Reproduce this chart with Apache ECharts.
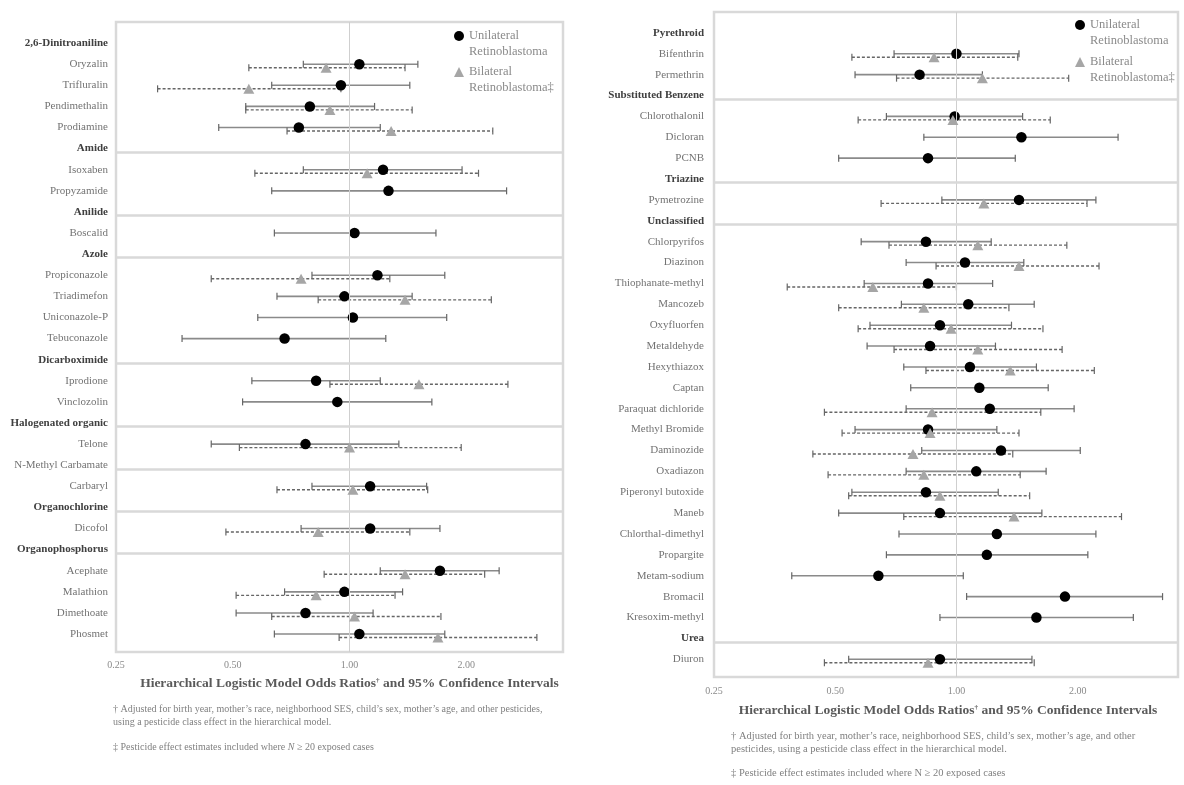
<!DOCTYPE html>
<html>
<head>
<meta charset="utf-8">
<script src="https://cdn.jsdelivr.net/npm/echarts@6/dist/echarts.min.js"></script>
<style>
  html, body { margin: 0; padding: 0; background: #fff; }
  #chart { width: 1184px; height: 785px; }
</style>
</head>
<body>
<div id="chart"></div>
<script>
// ---- Left panel: pesticide classes and active ingredients (top to bottom) ----
const leftLabels = [
  '2,6-Dinitroaniline', 'Oryzalin', 'Trifluralin', 'Pendimethalin', 'Prodiamine',
  'Amide', 'Isoxaben', 'Propyzamide',
  'Anilide', 'Boscalid',
  'Azole', 'Propiconazole', 'Triadimefon', 'Uniconazole-P', 'Tebuconazole',
  'Dicarboximide', 'Iprodione', 'Vinclozolin',
  'Halogenated organic', 'Telone',
  'N-Methyl Carbamate', 'Carbaryl',
  'Organochlorine', 'Dicofol',
  'Organophosphorus', 'Acephate', 'Malathion', 'Dimethoate', 'Phosmet'
];
const leftClasses = ['2,6-Dinitroaniline', 'Amide', 'Anilide', 'Azole', 'Dicarboximide',
  'Halogenated organic', 'N-Methyl Carbamate', 'Organochlorine', 'Organophosphorus'];

// Unilateral retinoblastoma: odds ratio, lower and upper 95% CI
const leftUniOR = [null, 1.06, 0.95, 0.79, 0.74, null, 1.22, 1.26, null, 1.03, null, 1.18, 0.97, 1.02, 0.68,
  null, 0.82, 0.93, null, 0.77, null, 1.13, null, 1.13, null, 1.71, 0.97, 0.77, 1.06];
const leftUniLo = [null, 0.76, 0.63, 0.54, 0.46, null, 0.76, 0.63, null, 0.64, null, 0.80, 0.65, 0.58, 0.37,
  null, 0.56, 0.53, null, 0.44, null, 0.80, null, 0.75, null, 1.20, 0.68, 0.51, 0.64];
const leftUniHi = [null, 1.50, 1.43, 1.16, 1.20, null, 1.95, 2.54, null, 1.67, null, 1.76, 1.45, 1.78, 1.24,
  null, 1.20, 1.63, null, 1.34, null, 1.58, null, 1.71, null, 2.43, 1.37, 1.15, 1.76];

// Bilateral retinoblastoma: odds ratio, lower and upper 95% CI
const leftBiOR = [null, 0.87, 0.55, 0.89, 1.28, null, 1.11, null, null, null, null, 0.75, 1.39, null, null,
  null, 1.51, null, null, 1.00, null, 1.02, null, 0.83, null, 1.39, 0.82, 1.03, 1.69];
const leftBiLo = [null, 0.55, 0.32, 0.54, 0.69, null, 0.57, null, null, null, null, 0.44, 0.83, null, null,
  null, 0.89, null, null, 0.52, null, 0.65, null, 0.48, null, 0.86, 0.51, 0.63, 0.94];
const leftBiHi = [null, 1.39, 0.95, 1.45, 2.34, null, 2.15, null, null, null, null, 1.27, 2.32, null, null,
  null, 2.56, null, null, 1.94, null, 1.59, null, 1.43, null, 2.23, 1.31, 1.72, 3.04];

// ---- Right panel ----
const rightLabels = [
  'Pyrethroid', 'Bifenthrin', 'Permethrin',
  'Substituted Benzene', 'Chlorothalonil', 'Dicloran', 'PCNB',
  'Triazine', 'Pymetrozine',
  'Unclassified', 'Chlorpyrifos', 'Diazinon', 'Thiophanate-methyl', 'Mancozeb', 'Oxyfluorfen',
  'Metaldehyde', 'Hexythiazox', 'Captan', 'Paraquat dichloride', 'Methyl Bromide', 'Daminozide',
  'Oxadiazon', 'Piperonyl butoxide', 'Maneb', 'Chlorthal-dimethyl', 'Propargite', 'Metam-sodium',
  'Bromacil', 'Kresoxim-methyl',
  'Urea', 'Diuron'
];
const rightClasses = ['Pyrethroid', 'Substituted Benzene', 'Triazine', 'Unclassified', 'Urea'];

const rightUniOR = [null, 1.00, 0.81, null, 0.99, 1.45, 0.85, null, 1.43, null,
  0.84, 1.05, 0.85, 1.07, 0.91, 0.86, 1.08, 1.14, 1.21, 0.85, 1.29, 1.12, 0.84, 0.91, 1.26, 1.19, 0.64,
  1.86, 1.58, null, 0.91];
const rightUniLo = [null, 0.70, 0.56, null, 0.67, 0.83, 0.51, null, 0.92, null,
  0.58, 0.75, 0.59, 0.73, 0.61, 0.60, 0.74, 0.77, 0.75, 0.56, 0.82, 0.75, 0.55, 0.51, 0.72, 0.67, 0.39,
  1.06, 0.91, null, 0.54];
const rightUniHi = [null, 1.43, 1.16, null, 1.46, 2.52, 1.40, null, 2.22, null,
  1.22, 1.47, 1.23, 1.56, 1.37, 1.25, 1.58, 1.69, 1.96, 1.26, 2.03, 1.67, 1.27, 1.63, 2.22, 2.12, 1.04,
  3.25, 2.75, null, 1.54];

const rightBiOR = [null, 0.88, 1.16, null, 0.98, null, null, null, 1.17, null,
  1.13, 1.43, 0.62, 0.83, 0.97, 1.13, 1.36, null, 0.87, 0.86, 0.78, 0.83, 0.91, 1.39, null, null, null,
  null, null, null, 0.85];
const rightBiLo = [null, 0.55, 0.71, null, 0.57, null, null, null, 0.65, null,
  0.68, 0.89, 0.38, 0.51, 0.57, 0.70, 0.84, null, 0.47, 0.52, 0.44, 0.48, 0.54, 0.74, null, null, null,
  null, null, null, 0.47];
const rightBiHi = [null, 1.42, 1.90, null, 1.71, null, null, null, 2.11, null,
  1.88, 2.26, 1.00, 1.35, 1.64, 1.83, 2.20, null, 1.62, 1.43, 1.38, 1.44, 1.52, 2.57, null, null, null,
  null, null, null, 1.56];

// Class names printed in regular weight
const plainClassLabels = ['N-Methyl Carbamate'];

// Axis tick values shown under each panel
const xTickLabels = [0.25, 0.5, 1, 2];

const SERIF = '"Liberation Serif", "DejaVu Serif", serif';
const UNI = 'Unilateral Retinoblastoma';
const BI = 'Bilateral Retinoblastoma\u2021';
const BI_SHIFT = 3.5;

function pointData(or) {
  const out = [];
  or.forEach((v, i) => { if (v != null) out.push([v, i]); });
  return out;
}
function barData(lo, hi) {
  const out = [];
  lo.forEach((v, i) => { if (v != null) out.push([v, hi[i], i]); });
  return out;
}

function barRenderer(dy, dashed) {
  return function (params, api) {
    const row = api.value(2);
    const a = api.coord([api.value(0), row]);
    const b = api.coord([api.value(1), row]);
    const y = a[1] + dy;
    const lineStyle = dashed
      ? { stroke: '#666666', lineWidth: 1.4, lineDash: [3, 2] }
      : { stroke: '#8a8a8a', lineWidth: 1.6 };
    const capStyle = { stroke: '#666666', lineWidth: 1.2 };
    return {
      type: 'group',
      children: [
        { type: 'line', shape: { x1: a[0], y1: y, x2: b[0], y2: y }, style: lineStyle },
        { type: 'line', shape: { x1: a[0], y1: y - 3.5, x2: a[0], y2: y + 3.5 }, style: capStyle },
        { type: 'line', shape: { x1: b[0], y1: y - 3.5, x2: b[0], y2: y + 3.5 }, style: capStyle }
      ]
    };
  };
}

function separatorValues(labels, classes) {
  // a rule just under every class heading except the first one
  return labels
    .map((t, i) => (classes.includes(t) && i > 0 ? i + 0.17 : null))
    .filter(v => v != null);
}

function yAxisFor(labels, classes, gridIndex, margin) {
  return {
    type: 'value',
    gridIndex: gridIndex,
    inverse: true,
    min: -1,
    max: labels.length - 1 + 0.85,
    interval: 1,
    axisLine: { show: false },
    axisTick: { show: false },
    splitLine: { show: false },
    axisLabel: {
      margin: margin,
      showMinLabel: false,
      showMaxLabel: false,
      formatter: function (v) {
        const k = Math.round(v);
        if (Math.abs(v - k) > 1e-6 || k < 0 || k >= labels.length) return '';
        const t = labels[k];
        const bold = classes.includes(t) && !plainClassLabels.includes(t);
        return (bold ? '{h|' : '{n|') + t + '}';
      },
      rich: {
        h: { fontFamily: SERIF, fontSize: 11, fontWeight: 'bold', color: '#404040' },
        n: { fontFamily: SERIF, fontSize: 11, color: '#737373' }
      }
    }
  };
}

function xAxisFor(gridIndex, nameGap, labelMargin, namePad) {
  return {
    type: 'log',
    logBase: 2,
    gridIndex: gridIndex,
    min: 0.25,
    max: 3.55,
    axisLine: { show: false },
    axisTick: { show: false },
    splitLine: { show: false },
    axisLabel: {
      margin: labelMargin,
      fontFamily: SERIF,
      fontSize: 10,
      color: '#8a8a8a',
      showMaxLabel: false,
      formatter: function (v) {
        const hit = xTickLabels.find(t => Math.abs(t - v) < 1e-6);
        return hit != null ? hit.toFixed(2) : '';
      }
    },
    name: 'Hierarchical Logistic Model Odds Ratios{sup|\u2020} and 95% Confidence Intervals',
    nameLocation: 'middle',
    nameGap: nameGap,
    nameTextStyle: {
      fontFamily: SERIF,
      fontSize: 13.5,
      fontWeight: 'bold',
      color: '#5a5a5a',
      padding: namePad,
      rich: {
        sup: { fontFamily: SERIF, fontSize: 7, fontWeight: 'bold', color: '#5a5a5a', verticalAlign: 'top', padding: [0, 0, 6, 0] }
      }
    }
  };
}

function panelSeries(k, labels, classes, uniOR, uniLo, uniHi, biOR, biLo, biHi) {
  return [
    {
      // reference line at OR = 1 and class separators
      type: 'scatter', name: 'guides', xAxisIndex: k, yAxisIndex: k, data: [], z: 0,
      silent: true,
      markLine: {
        silent: true, symbol: ['none', 'none'], label: { show: false },
        animation: false,
        data: [{ xAxis: 1, lineStyle: { color: '#cfcfcf', width: 1, type: 'solid' } }]
          .concat(separatorValues(labels, classes).map(v => ({
            yAxis: v, lineStyle: { color: '#d9d9d9', width: 2.5, type: 'solid' }
          })))
      }
    },
    {
      type: 'custom', name: UNI + ' CI', xAxisIndex: k, yAxisIndex: k, z: 2,
      renderItem: barRenderer(0, false), encode: { x: [0, 1], y: 2 },
      data: barData(uniLo, uniHi), silent: true, clip: true
    },
    {
      type: 'custom', name: BI + ' CI', xAxisIndex: k, yAxisIndex: k, z: 3,
      renderItem: barRenderer(BI_SHIFT, true), encode: { x: [0, 1], y: 2 },
      data: barData(biLo, biHi), silent: true, clip: true
    },
    {
      type: 'scatter', name: UNI, xAxisIndex: k, yAxisIndex: k, z: 4,
      symbol: 'circle', symbolSize: 10.5,
      itemStyle: { color: '#000000', opacity: 1 },
      data: pointData(uniOR)
    },
    {
      type: 'scatter', name: BI, xAxisIndex: k, yAxisIndex: k, z: 5,
      symbol: 'triangle', symbolSize: [11, 10], symbolOffset: [0, BI_SHIFT],
      itemStyle: { color: '#a6a6a6', opacity: 1 },
      data: pointData(biOR)
    }
  ];
}

function legendItem(name, left, top) {
  // a leading empty line keeps the marker level with the first text line
  return {
    data: [name], left: left, top: top, orient: 'vertical', padding: 0,
    itemWidth: 10, itemHeight: 10, selectedMode: false,
    formatter: n => '\n' + n.replace(' ', '\n'),
    textStyle: { fontFamily: SERIF, fontSize: 12.5, color: '#8a8a8a', lineHeight: 16 }
  };
}

const chart = echarts.init(document.getElementById('chart'), null, { renderer: 'canvas' });

const footStyle = { fontFamily: SERIF, fill: '#808080' };

chart.setOption({
  animation: false,
  backgroundColor: '#ffffff',
  grid: [
    { left: 116, top: 22, width: 447, height: 630, show: true, borderColor: '#d9d9d9', borderWidth: 2.5, backgroundColor: 'transparent' },
    { left: 714, top: 12, width: 464, height: 665, show: true, borderColor: '#d9d9d9', borderWidth: 2.5, backgroundColor: 'transparent' }
  ],
  xAxis: [xAxisFor(0, 25, 8, [0, 0, 0, 20]), xAxisFor(1, 27, 9, [0, 0, 0, 4])],
  yAxis: [yAxisFor(leftLabels, leftClasses, 0, 8), yAxisFor(rightLabels, rightClasses, 1, 10)],
  legend: [
    legendItem(UNI, 454, 12),
    legendItem(BI, 454, 48),
    legendItem(UNI, 1075, 1),
    legendItem(BI, 1075, 38)
  ],
  series: []
    .concat(panelSeries(0, leftLabels, leftClasses, leftUniOR, leftUniLo, leftUniHi, leftBiOR, leftBiLo, leftBiHi))
    .concat(panelSeries(1, rightLabels, rightClasses, rightUniOR, rightUniLo, rightUniHi, rightBiOR, rightBiLo, rightBiHi)),
  graphic: [
    {
      type: 'text', left: 113, top: 703, silent: true,
      style: Object.assign({}, footStyle, {
        fontSize: 10, lineHeight: 13,
        text: '\u2020 Adjusted for birth year, mother\u2019s race, neighborhood SES, child\u2019s sex, mother\u2019s age, and other pesticides,\nusing a pesticide class effect in the hierarchical model.'
      })
    },
    {
      type: 'text', left: 113, top: 742, silent: true,
      style: Object.assign({}, footStyle, {
        fontSize: 10,
        text: '\u2021 Pesticide effect estimates included where {i|N} \u2265 20 exposed cases',
        rich: { i: { fontFamily: SERIF, fontSize: 10, fontStyle: 'italic', fill: '#808080' } }
      })
    },
    {
      type: 'text', left: 731, top: 730, silent: true,
      style: Object.assign({}, footStyle, {
        fontSize: 10.5, lineHeight: 13,
        text: '\u2020 Adjusted for birth year, mother\u2019s race, neighborhood SES, child\u2019s sex, mother\u2019s age, and other\npesticides, using a pesticide class effect in the hierarchical model.'
      })
    },
    {
      type: 'text', left: 731, top: 768, silent: true,
      style: Object.assign({}, footStyle, {
        fontSize: 10.5,
        text: '\u2021 Pesticide effect estimates included where N \u2265 20 exposed cases'
      })
    }
  ]
});
</script>
</body>
</html>
